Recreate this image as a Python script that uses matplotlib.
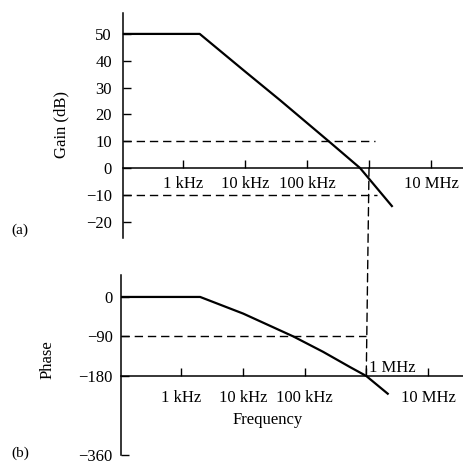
import numpy as np
import matplotlib
matplotlib.use("Agg")
import matplotlib.pyplot as plt
from matplotlib.patches import ConnectionPatch
from matplotlib.ticker import NullLocator

plt.rcParams['font.family'] = ['Liberation Serif', 'DejaVu Serif']
plt.rcParams['font.size'] = 12

# frequency ticks (Hz) and labels
freq_ticks = [1e3, 1e4, 1e5, 1e6, 1e7]
gain_freq_labels = ['1 kHz', '10 kHz', '100 kHz', '', '10 MHz']
phase_freq_labels = ['1 kHz', '10 kHz', '100 kHz', '', '10 MHz']

# gain curve
gain_f = [107.0, 1.86e3, 1.0e4, 3.67e4, 2.34e5, 7.16e5, 1.0e6, 2.4e6]
gain_db = [50, 50, 36, 25.3, 9.6, 0, -4, -14.5]
gain_ticks = [50, 40, 30, 20, 10, 0, -10, -20]
gain_tick_labels = ['50', '40', '30', '20', '10', '0', '\u221210', '\u221220']

# phase curve
phase_f = [107.0, 2.04e3, 1.02e4, 6.6e4, 2.0e5, 5.5e5, 1.0e6, 2.3e6]
phase_deg = [0, 0, -38, -90, -125, -160, -180, -222]
phase_ticks = [0, -90, -180, -360]
phase_tick_labels = ['0', '\u221290', '\u2212180', '\u2212360']

# dashed guide lines
gain_guides = [(10, 1.26e6), (-10, 1.35e6)]
phase_guide = (-90, 1.0e6)
crossover_f = 1.0e6

W, H = 464, 466
fig = plt.figure(figsize=(W / 100, H / 100), dpi=100)
ax1 = fig.add_axes([123 / W, 1 - 238 / H, 341 / W, 225 / H])
ax2 = fig.add_axes([121 / W, 1 - 455 / H, 343 / W, 180 / H])

lw_axis = 1.1
dash = (0, (6, 3.5))

for ax, y0 in ((ax1, 0), (ax2, -180)):
    ax.set_xscale('log')
    ax.xaxis.set_minor_locator(NullLocator())
    ax.spines['top'].set_visible(False)
    ax.spines['right'].set_visible(False)
    ax.spines['bottom'].set_position(('data', y0))
    ax.spines['bottom'].set_linewidth(lw_axis)
    ax.spines['left'].set_linewidth(lw_axis)
    ax.patch.set_alpha(0)

# (a) gain
x1_lo, x1_hi = 10 ** 2.032, 10 ** 7.532
ax1.plot(gain_f, gain_db, color='black', lw=1.6, solid_capstyle='butt',
         solid_joinstyle='round', clip_on=False)
for y, xe in gain_guides:
    ax1.plot([x1_lo, xe], [y, y], color='black', lw=1.0, linestyle=dash)
ax1.set_xlim(x1_lo, x1_hi)
ax1.set_ylim(-26.1, 57.8)
ax1.set_xticks(freq_ticks, gain_freq_labels)
ax1.set_yticks(gain_ticks, gain_tick_labels)
ax1.tick_params(axis='x', direction='in', length=6, width=1, pad=6)
ax1.tick_params(axis='y', direction='in', length=6, width=1, pad=8)

# (b) phase
x2_lo, x2_hi = 10 ** 2.028, 10 ** 7.583
ax2.plot(phase_f, phase_deg, color='black', lw=1.6, solid_capstyle='butt',
         solid_joinstyle='round', clip_on=False)
ax2.plot([x2_lo, phase_guide[1]], [phase_guide[0], phase_guide[0]], color='black',
         lw=1.0, linestyle=dash)
ax2.set_xlim(x2_lo, x2_hi)
ax2.set_ylim(-360, 50)
ax2.set_xticks(freq_ticks, phase_freq_labels)
ax2.set_yticks(phase_ticks, phase_tick_labels)
ax2.tick_params(axis='x', direction='in', length=6, width=1, pad=10)
ax2.tick_params(axis='y', direction='in', length=6, width=1, pad=6)
ax2.text(crossover_f * 1.1, -180, '1 MHz', ha='left', va='bottom', fontsize=12)

# vertical dashed line linking the two panels
con = ConnectionPatch(xyA=(crossover_f, 0), coordsA=ax1.transData,
                      xyB=(crossover_f, -180), coordsB=ax2.transData,
                      color='black', lw=1.0, linestyle=dash)
fig.add_artist(con)

fig.text(61 / W, 1 - 124 / H, 'Gain (dB)', rotation=90, ha='center', va='center', fontsize=12)
fig.text(48 / W, 1 - 360 / H, 'Phase', rotation=90, ha='center', va='center', fontsize=12)
fig.text(268 / W, 1 - 420 / H, 'Frequency', ha='center', va='center', fontsize=12)
fig.text(20 / W, 1 - 230 / H, '(a)', ha='center', va='center', fontsize=11)
fig.text(20 / W, 1 - 453 / H, '(b)', ha='center', va='center', fontsize=11)

fig.savefig('out.png', dpi=100)
